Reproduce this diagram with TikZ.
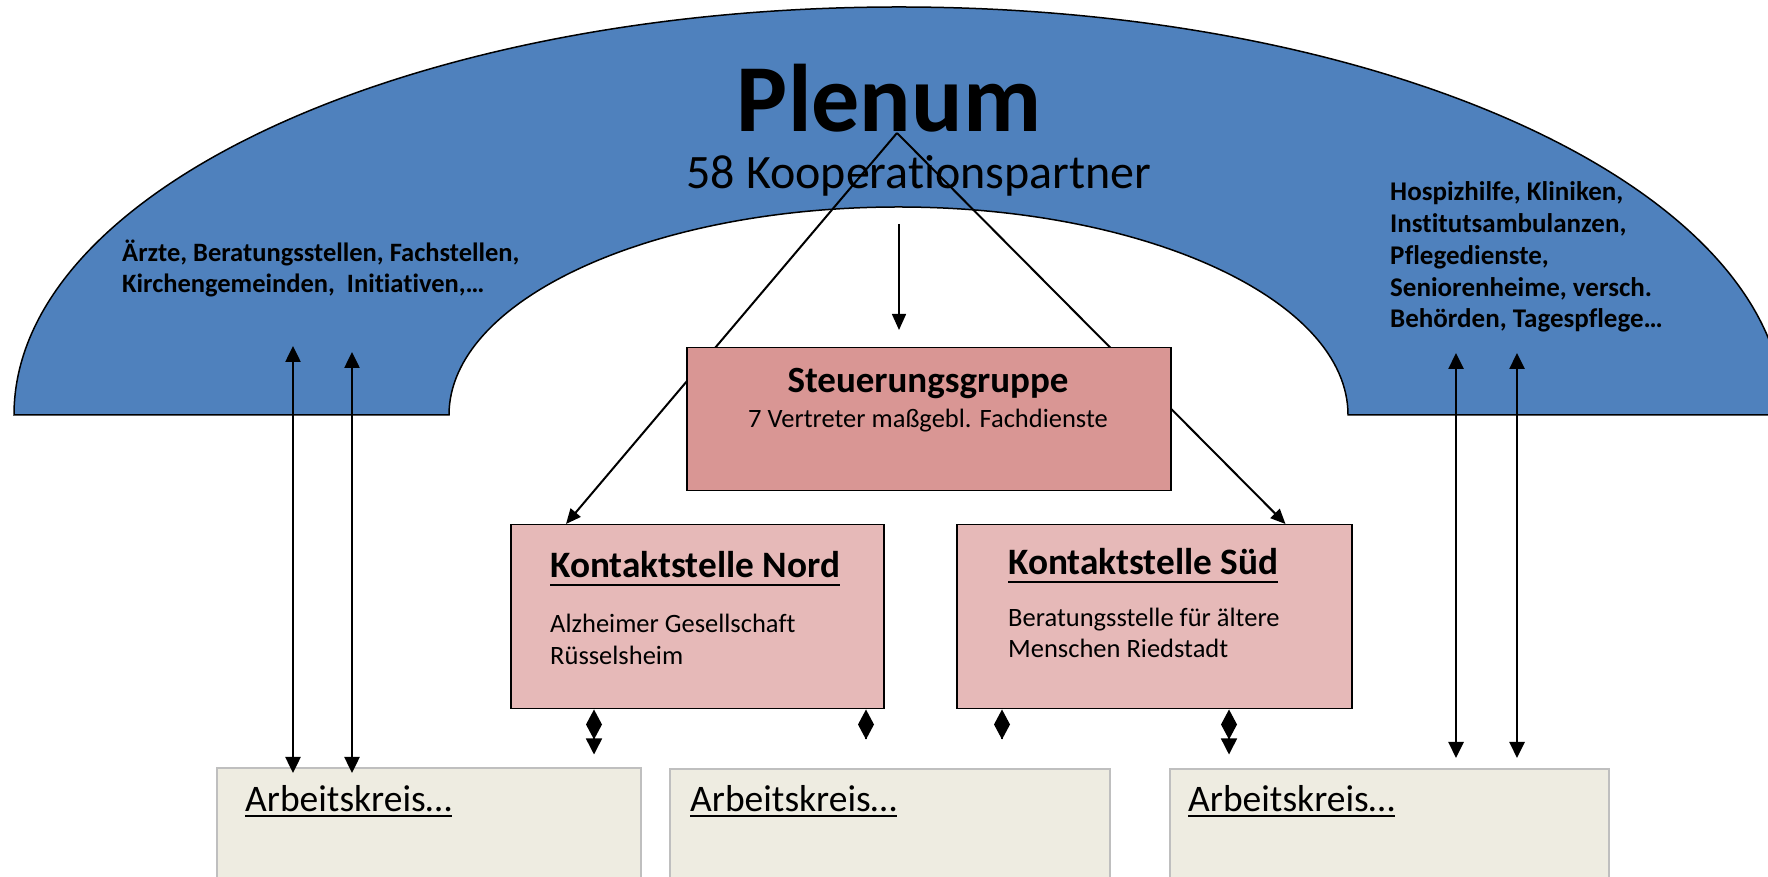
\documentclass[tikz,border=0pt]{standalone}
\usepackage{fontspec}
\setmainfont{Carlito}[Ligatures=NoCommon]
\usetikzlibrary{arrows.meta}
\definecolor{bandblue}{HTML}{4F81BD}
\definecolor{steuer}{HTML}{D99694}
\definecolor{kontakt}{HTML}{E6B9B8}
\definecolor{akfill}{HTML}{EEECE1}
\definecolor{akline}{HTML}{BFBFBF}
\begin{document}
\begin{tikzpicture}[x=1pt,y=1pt,
  txt/.style={inner sep=0pt, anchor=base west, align=left},
  ctxt/.style={inner sep=0pt, anchor=base},
  redbox/.style={draw=black, line width=1.5pt, fill=steuer, inner sep=0pt, anchor=north west},
  kbox/.style={draw=black, line width=1.5pt, fill=kontakt, inner sep=0pt, anchor=north west},
  akbox/.style={draw=akline, line width=2pt, fill=akfill, inner sep=0pt, anchor=north west},
  conn/.style={line width=2pt, -{Triangle[length=15pt,width=13pt]}},
  longarrow/.style={line width=2.5pt, {Triangle[length=16pt,width=15pt]}-{Triangle[length=16pt,width=15pt]}},
  darrow/.style={line width=1.5pt, {Diamond[length=30pt,width=16pt]}-{Triangle[length=16pt,width=16pt]}},
  donly/.style={line width=1.5pt, {Diamond[length=30pt,width=16pt]}-},
  uline/.style={line width=2pt}
]
\useasboundingbox (0,0) rectangle (1768,877);
\begin{scope}
\clip (0,0) rectangle (1768,877);
% Plenum band
\path[fill=bandblue, draw=black, line width=1.5pt]
  (14,462) arc[start angle=180, end angle=0, x radius=885pt, y radius=408pt]
  -- (1348,462) arc[start angle=0, end angle=180, x radius=449.5pt, y radius=208pt]
  -- cycle;
% Arbeitskreis boxes
\node[akbox, minimum width=424pt, minimum height=130pt] (ak1) at (216,110) {};
\node[akbox, minimum width=440pt, minimum height=130pt] (ak2) at (669,109) {};
\node[akbox, minimum width=439pt, minimum height=130pt] (ak3) at (1169,109) {};
\end{scope}

\node[ctxt, font={\fontsize{96}{110}\selectfont\bfseries}] (plenum) at (889,745) {Plenum};
\node[ctxt, font={\fontsize{48}{56}\selectfont}] (koop) at (919,688) {58 Kooperationspartner};

\node[txt, font={\fontsize{26.5}{31}\selectfont\bfseries}] (lefttxt) at (122,584)
  {Ärzte, Beratungsstellen, Fachstellen,\\Kirchengemeinden,\ \ Initiativen,…};
\node[txt, font={\fontsize{27}{31.8}\selectfont\bfseries}] (righttxt) at (1390,549)
  {Hospizhilfe, Kliniken,\\Institutsambulanzen,\\Pflegedienste,\\Seniorenheime, versch.\\Behörden, Tagespflege…};

\coordinate (apex) at (897,744);

% boxes
\node[kbox, minimum width=373pt, minimum height=184pt] (nord) at (510,353) {};
\node[kbox, minimum width=395pt, minimum height=184pt] (sued) at (956,353) {};

% lines from apex (behind Steuerungsgruppe)
\draw[conn] (apex) -- ([xshift=56pt]nord.north west);
\draw[conn] (apex) -- ([xshift=-67pt]sued.north east);

\node[redbox, minimum width=484pt, minimum height=143pt] (sg) at (686,530) {};
\node[ctxt, font={\fontsize{37}{44}\selectfont\bfseries}] (sgt) at (928,484) {Steuerungsgruppe};
\node[ctxt, font={\fontsize{26.5}{32}\selectfont}] (sgs) at (928,449) {7 Vertreter maßgebl. Fachdienste};

% down arrow
\coordinate (dstart) at (899,653);
\draw[line width=1.5pt, -{Triangle[length=16pt,width=14pt]}] (dstart) -- ([yshift=17pt]sg.north -| dstart);

% Kontaktstelle texts
\node[txt, font={\fontsize{37.3}{44}\selectfont\bfseries}] (nordt) at (550,299) {Kontaktstelle Nord};
\draw[uline] ([yshift=-7pt]nordt.base west) -- ([yshift=-7pt]nordt.base east);
\node[txt, font={\fontsize{26.5}{32}\selectfont}] (nordb) at (550,212) {Alzheimer Gesellschaft\\Rüsselsheim};
\node[txt, font={\fontsize{37.3}{44}\selectfont\bfseries}] (suedt) at (1008,302) {Kontaktstelle Süd};
\draw[uline] ([yshift=-7pt]suedt.base west) -- ([yshift=-7pt]suedt.base east);
\node[txt, font={\fontsize{26.5}{31}\selectfont}] (suedb) at (1008,219) {Beratungsstelle für ältere\\Menschen Riedstadt};

% Arbeitskreis texts
\node[txt, font={\fontsize{37.5}{44}\selectfont}] (ak1t) at (245,65) {Arbeitskreis…};
\draw[uline] ([yshift=-4pt]ak1t.base west) -- ([yshift=-4pt]ak1t.base east);
\node[txt, font={\fontsize{37.5}{44}\selectfont}] (ak2t) at (690,65) {Arbeitskreis…};
\draw[uline] ([yshift=-4pt]ak2t.base west) -- ([yshift=-4pt]ak2t.base east);
\node[txt, font={\fontsize{37.5}{44}\selectfont}] (ak3t) at (1188,65) {Arbeitskreis…};
\draw[uline] ([yshift=-4pt]ak3t.base west) -- ([yshift=-4pt]ak3t.base east);

% long vertical arrows
\coordinate (l1top) at (293,531);
\coordinate (l2top) at (352,525);
\coordinate (r1top) at (1456,524);
\coordinate (r2top) at (1517,524);
\draw[longarrow] (l1top) -- ([yshift=-6pt]ak1.north -| l1top);
\draw[longarrow] (l2top) -- ([yshift=-6pt]ak1.north -| l2top);
\draw[longarrow] (r1top) -- ([yshift=10pt]ak3.north -| r1top);
\draw[longarrow] (r2top) -- ([yshift=10pt]ak3.north -| r2top);

% diamond connectors
\draw[darrow] ([xshift=84pt]nord.south west) -- ++(0,-45);
\draw[donly] ([xshift=356pt]nord.south west) -- ++(0,-30);
\draw[donly] ([xshift=46pt]sued.south west) -- ++(0,-30);
\draw[darrow] ([xshift=273pt]sued.south west) -- ++(0,-45);
\end{tikzpicture}
\end{document}
